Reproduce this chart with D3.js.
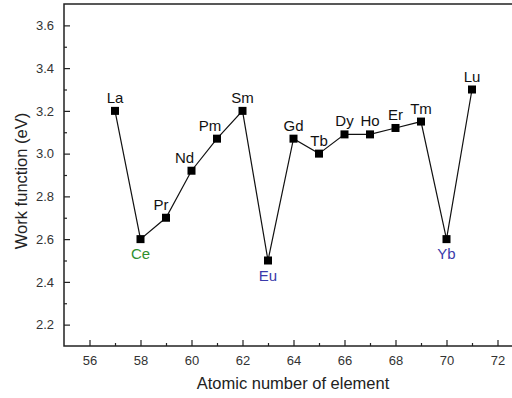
<!DOCTYPE html>
<html>
<head>
<meta charset="utf-8">
<script src="https://cdn.jsdelivr.net/npm/d3@7"></script>
<style>
  body { margin: 0; background: #fff; }
  svg { display: block; }
  text { font-family: Arial, "Liberation Sans", sans-serif; }
</style>
</head>
<body>
<svg width="512" height="398"></svg>
<script>
// work function of the lanthanides
var elements = ["La","Ce","Pr","Nd","Pm","Sm","Eu","Gd","Tb","Dy","Ho","Er","Tm","Yb","Lu"];
var atomicNumbers = [57,58,59,60,61,62,63,64,65,66,67,68,69,70,71];
var workFunction = [3.2,2.6,2.7,2.92,3.07,3.2,2.5,3.07,3.0,3.09,3.09,3.12,3.15,2.6,3.3];
var xTicks = [56,58,60,62,64,66,68,70,72];
var yTicks = [2.2,2.4,2.6,2.8,3.0,3.2,3.4,3.6];

var data = elements.map(function(e, i) {
    return {name: e, x: atomicNumbers[i], y: workFunction[i]};
});

// plot box (window.top is reserved, so use other names)
var pLeft = 64, pTop = 4, pRight = 523, pBottom = 346;

var x = d3.scaleLinear().domain([55, 73]).range([pLeft, pRight]);
var y = d3.scaleLinear().domain([2.1, 3.7]).range([pBottom, pTop]);

var svg = d3.select("svg");

// frame (right side is cut off)
svg.append("rect")
    .attr("x", pLeft).attr("y", pTop)
    .attr("width", pRight - pLeft).attr("height", pBottom - pTop)
    .attr("fill", "none").attr("stroke", "#222").attr("stroke-width", 1.5);

// x axis
var xAxis = svg.append("g")
    .attr("transform", "translate(0," + pBottom + ")")
    .call(d3.axisBottom(x).tickValues(xTicks).tickFormat(d3.format("d")).tickSizeInner(-6).tickSizeOuter(0).tickPadding(10));
xAxis.select(".domain").remove();
xAxis.selectAll("line").attr("stroke", "#222").attr("stroke-width", 1.2);
xAxis.selectAll("text").attr("font-size", 13).attr("fill", "#333");

var xMinor = svg.append("g")
    .attr("transform", "translate(0," + pBottom + ")")
    .call(d3.axisBottom(x).tickValues(d3.range(57, 72, 2)).tickFormat("").tickSizeInner(-3).tickSizeOuter(0));
xMinor.select(".domain").remove();
xMinor.selectAll("line").attr("stroke", "#222").attr("stroke-width", 1.2);

// y axis
var yAxis = svg.append("g")
    .attr("transform", "translate(" + pLeft + ",0)")
    .call(d3.axisLeft(y).tickValues(yTicks).tickFormat(d3.format(".1f")).tickSizeInner(-6).tickSizeOuter(0).tickPadding(10));
yAxis.select(".domain").remove();
yAxis.selectAll("line").attr("stroke", "#222").attr("stroke-width", 1.2);
yAxis.selectAll("text").attr("font-size", 13).attr("fill", "#333");

var yMinor = svg.append("g")
    .attr("transform", "translate(" + pLeft + ",0)")
    .call(d3.axisLeft(y).tickValues([2.3,2.5,2.7,2.9,3.1,3.3,3.5]).tickFormat("").tickSizeInner(-3).tickSizeOuter(0));
yMinor.select(".domain").remove();
yMinor.selectAll("line").attr("stroke", "#222").attr("stroke-width", 1.2);

// axis titles
svg.append("text")
    .attr("x", 293).attr("y", 389)
    .attr("text-anchor", "middle").attr("font-size", 16.5).attr("fill", "#222")
    .text("Atomic number of element");

svg.append("text")
    .attr("transform", "translate(27,181) rotate(-90)")
    .attr("text-anchor", "middle").attr("font-size", 16.5).attr("fill", "#222")
    .text("Work function (eV)");

// line and markers
var line = d3.line().x(function(d) { return x(d.x); }).y(function(d) { return y(d.y); });

svg.append("path")
    .datum(data)
    .attr("d", line)
    .attr("fill", "none").attr("stroke", "#111").attr("stroke-width", 1.2);

svg.selectAll("rect.pt")
    .data(data)
    .enter()
    .append("rect")
    .attr("class", "pt")
    .attr("x", function(d) { return x(d.x) - 4; })
    .attr("y", function(d) { return y(d.y) - 4; })
    .attr("width", 8).attr("height", 8)
    .attr("fill", "#000");

// labels
var below = {Ce: "#2f8f2f", Eu: "#3a3aaa", Yb: "#3a3aaa"};
var shift = {Pr: -5, Nd: -7, Pm: -7};

svg.selectAll("text.lbl")
    .data(data)
    .enter()
    .append("text")
    .attr("class", "lbl")
    .attr("text-anchor", "middle")
    .attr("font-size", 15)
    .attr("x", function(d) { return x(d.x) + (shift[d.name] || 0); })
    .attr("y", function(d) { return below[d.name] ? y(d.y) + 20 : y(d.y) - 8; })
    .attr("fill", function(d) { return below[d.name] || "#111"; })
    .text(function(d) { return d.name; });
</script>
</body>
</html>
